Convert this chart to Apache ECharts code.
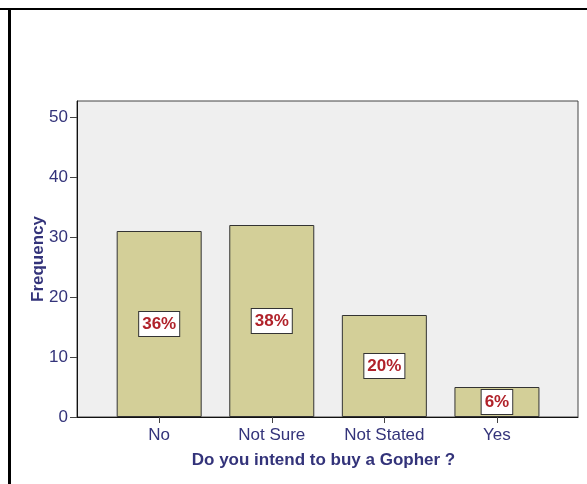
<!DOCTYPE html>
<html>
<head>
<meta charset="utf-8">
<script src="https://cdn.jsdelivr.net/npm/echarts@6/dist/echarts.min.js"></script>
<style>
html,body{margin:0;padding:0;background:#fff;}
#main{width:587px;height:484px;}
</style>
</head>
<body>
<div id="main"></div>
<script>
var categories = ['No', 'Not Sure', 'Not Stated', 'Yes'];
var counts = [31, 32, 17, 5];
var percents = ['36%', '38%', '20%', '6%'];
var yTicks = [0, 10, 20, 30, 40, 50];

var chart = echarts.init(document.getElementById('main'));
var textFont = 'Liberation Sans, Arial, sans-serif';
var navy = '#33337a';

var barData = counts.map(function (v, i) { return [i, v]; });

var option = {
    animation: false,
    graphic: [
        { type: 'rect', shape: { x: 0, y: 8, width: 587, height: 2 }, style: { fill: '#000' } },
        { type: 'rect', shape: { x: 8, y: 8, width: 3, height: 476 }, style: { fill: '#000' } }
    ],
    grid: {
        left: 77, top: 101, right: 9, bottom: 67,
        show: true, backgroundColor: '#efefef', borderColor: '#444', borderWidth: 1
    },
    xAxis: {
        type: 'value',
        min: -0.73, max: 3.72,
        name: 'Do you intend to buy a Gopher ?',
        nameLocation: 'middle',
        nameGap: 35,
        nameMoveOverlap: false,
        nameTextStyle: { color: navy, fontSize: 17, fontWeight: 'bold', fontFamily: textFont, padding: [0, 8, 0, 0] },
        splitLine: { show: false },
        axisLine: { show: true, onZero: false, lineStyle: { color: '#111', width: 1 } },
        axisTick: { show: true, length: 6, customValues: [0, 1, 2, 3], lineStyle: { color: '#444' } },
        axisLabel: {
            customValues: [0, 1, 2, 3],
            color: navy, fontSize: 17, fontFamily: textFont, margin: 10,
            formatter: function (v) { return categories[Math.round(v)]; }
        }
    },
    yAxis: {
        type: 'value',
        min: 0, max: 52.67,
        name: 'Frequency',
        nameLocation: 'middle',
        nameGap: 30,
        nameMoveOverlap: false,
        nameRotate: 90,
        nameTextStyle: { color: navy, fontSize: 17, fontWeight: 'bold', fontFamily: textFont },
        splitLine: { show: false },
        axisLine: { show: true, onZero: false, lineStyle: { color: '#111', width: 1 } },
        axisTick: { show: true, length: 7, customValues: yTicks, lineStyle: { color: '#444' } },
        axisLabel: {
            customValues: yTicks,
            color: navy, fontSize: 17, fontFamily: textFont, margin: 9
        }
    },
    series: [{
        type: 'bar',
        data: barData,
        barWidth: 85,
        itemStyle: { color: '#d3cf98', borderColor: '#333', borderWidth: 1 },
        label: {
            show: true,
            position: 'inside',
            formatter: function (p) { return percents[p.dataIndex]; },
            color: '#b0222a',
            fontSize: 17,
            fontWeight: 'bold',
            fontFamily: textFont,
            backgroundColor: '#fff',
            borderColor: '#333',
            borderWidth: 1,
            padding: [4, 3, 3, 3]
        }
    }]
};

chart.setOption(option);
</script>
</body>
</html>
